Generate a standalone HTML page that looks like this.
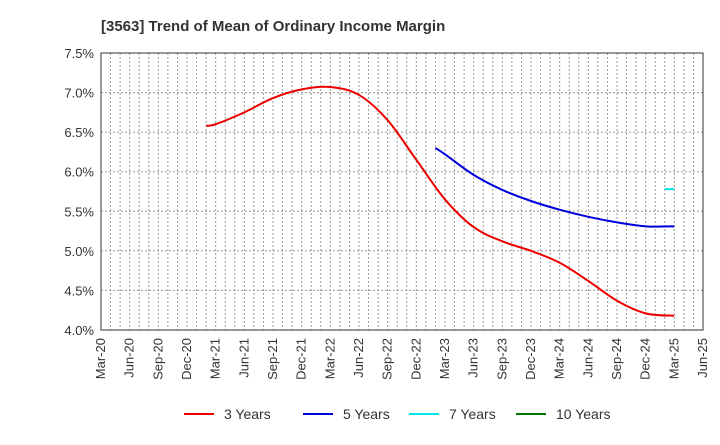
<!DOCTYPE html>
<html><head><meta charset="utf-8"><style>
body{margin:0;background:#fff;font-family:"Liberation Sans",sans-serif}
</style></head><body>
<svg id="c" width="720" height="440" font-family="Liberation Sans, sans-serif">
<text x="101" y="31" font-size="15" font-weight="bold" fill="#333">[3563]  Trend of Mean of Ordinary Income Margin</text>
<g id="grid"></g><g id="series"></g><g id="axes"></g>
<g font-size="14" fill="#333">
<line x1="184" y1="414" x2="214" y2="414" stroke="#e00" stroke-width="2"/><text x="224" y="419">3 Years</text>
<line x1="303" y1="414" x2="333" y2="414" stroke="#0000dd" stroke-width="2"/><text x="343" y="419">5 Years</text>
<line x1="409" y1="414" x2="439" y2="414" stroke="#00e5e5" stroke-width="2"/><text x="449" y="419">7 Years</text>
<line x1="516" y1="414" x2="546" y2="414" stroke="#007700" stroke-width="2"/><text x="556" y="419">10 Years</text>
</g>
</svg>
<script>
const xLabels=["Mar-20","Jun-20","Sep-20","Dec-20","Mar-21","Jun-21","Sep-21","Dec-21","Mar-22","Jun-22","Sep-22","Dec-22","Mar-23","Jun-23","Sep-23","Dec-23","Mar-24","Jun-24","Sep-24","Dec-24","Mar-25","Jun-25"];
const yTicks=[4.0,4.5,5.0,5.5,6.0,6.5,7.0,7.5];
const months3=[11,12,15,18,21,24,27,30,33,36,39,42,45,48,51,54,57,60];
const vals3=[6.58,6.60,6.75,6.93,7.04,7.07,6.97,6.65,6.15,5.65,5.30,5.12,5.00,4.85,4.62,4.37,4.21,4.18];
const months5=[35,36,39,42,45,48,51,54,57,60];
const vals5=[6.30,6.22,5.96,5.77,5.63,5.52,5.43,5.36,5.31,5.31];
const months7=[59,60];
const vals7=[5.78,5.78];
const L=101,R=703,T=53,B=330,NM=63;
const X=m=>L+m*(R-L)/NM, Y=v=>B-(v-4)*(B-T)/3.5;
const NS="http://www.w3.org/2000/svg";
function mk(t,a,p){const e=document.createElementNS(NS,t);for(const k in a)e.setAttribute(k,a[k]);p.appendChild(e);return e;}
const g=document.getElementById('grid'),ax=document.getElementById('axes'),s=document.getElementById('series');
for(let m=1;m<NM;m++){const l=mk('line',{x1:X(m),x2:X(m),y1:T,y2:B,stroke:'#999','stroke-dasharray':'2,2','stroke-width':1},g);
}
yTicks.forEach(v=>{if(v>4&&v<7.5){const l=mk('line',{x1:L,x2:R,y1:Y(v),y2:Y(v),stroke:'#999','stroke-dasharray':'2,2'},g);
}
const t=mk('text',{x:L-7,y:Y(v)+5,'text-anchor':'end','font-size':13,fill:'#333'},ax);t.textContent=v.toFixed(1)+'%';
});
xLabels.forEach((lb,i)=>{const x=X(i*3);const t=mk('text',{x:0,y:0,transform:`translate(${x+4},${B+8}) rotate(-90)`,'text-anchor':'end','font-size':13,fill:'#333'},ax);t.textContent=lb;
});
const fr=mk('rect',{x:L,y:T,width:R-L,height:B-T,fill:'none',stroke:'#333','stroke-width':1},ax);

function path(ms,vs){const p=ms.map((m,i)=>[X(m),Y(vs[i])]);let d=`M${p[0][0]},${p[0][1]}`;
for(let i=0;i<p.length-1;i++){const p0=p[i-1]||p[i],p1=p[i],p2=p[i+1],p3=p[i+2]||p2;
d+=`C${p1[0]+(p2[0]-p0[0])/6},${p1[1]+(p2[1]-p0[1])/6} ${p2[0]-(p3[0]-p1[0])/6},${p2[1]-(p3[1]-p1[1])/6} ${p2[0]},${p2[1]}`;}return d;}
[[months3,vals3,'#e00','line-3-years'],[months5,vals5,'#0000dd','line-5-years'],[months7,vals7,'#00e5e5','line-7-years']].forEach(([m,v,c,n])=>{
const e=mk('path',{d:path(m,v),fill:'none',stroke:c,'stroke-width':2},s);
});
</script>
</body></html>
